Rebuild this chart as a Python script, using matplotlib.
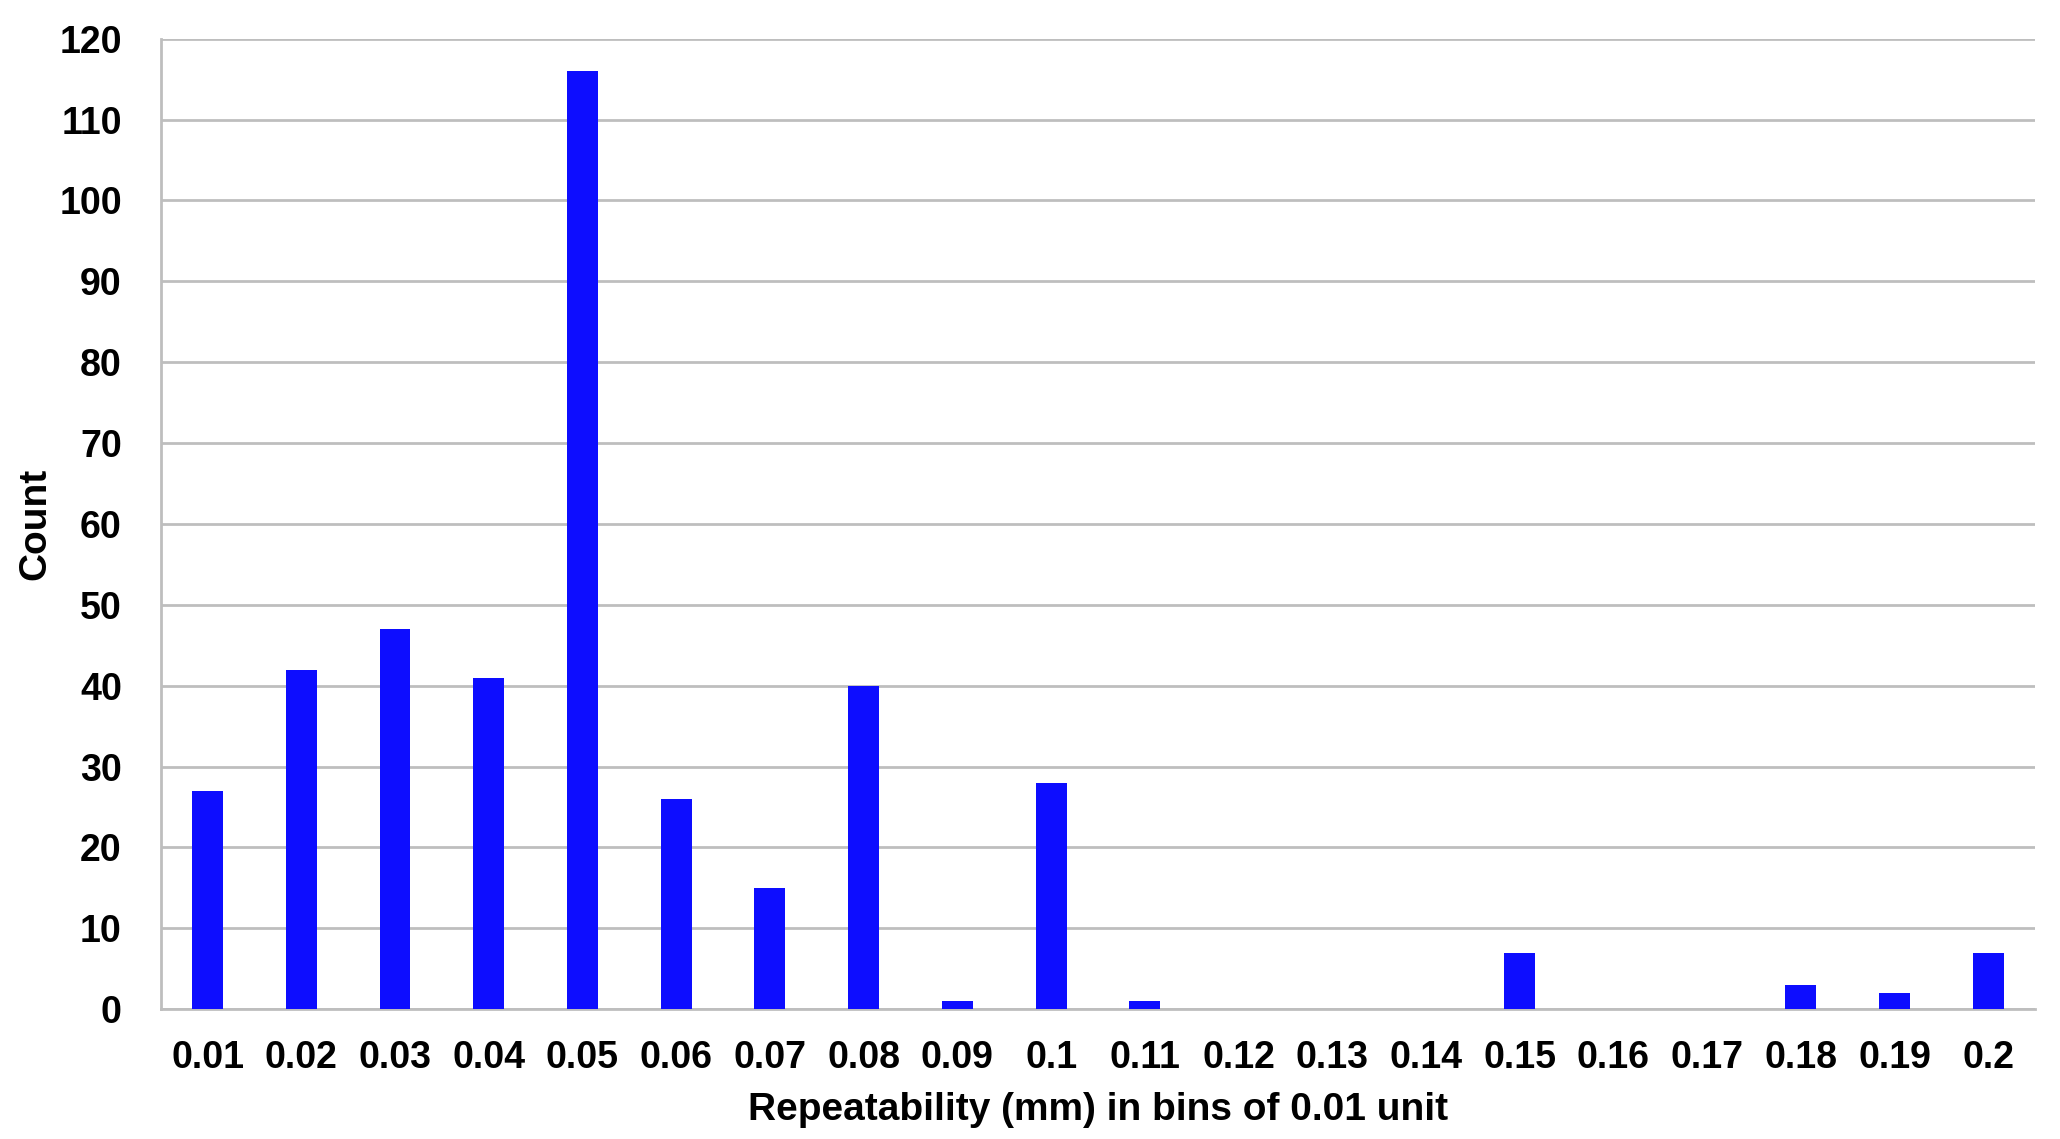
import numpy as np
import matplotlib
matplotlib.use('Agg')
import matplotlib.pyplot as plt

# Datos del histograma
bins = ['0.01', '0.02', '0.03', '0.04', '0.05', '0.06', '0.07', '0.08', '0.09', '0.1',
        '0.11', '0.12', '0.13', '0.14', '0.15', '0.16', '0.17', '0.18', '0.19', '0.2']
counts = [27, 42, 47, 41, 116, 26, 15, 40, 1, 28,
          1, 0, 0, 0, 7, 0, 0, 3, 2, 7]
y_ticks = list(range(0, 121, 10))

plt.rcParams['font.family'] = ['Liberation Sans', 'DejaVu Sans']
plt.rcParams['font.weight'] = 'bold'

fig = plt.figure(figsize=(20.6, 11.39), dpi=100)
ax = fig.add_axes([0.078, 0.114, 0.910, 0.852])

x = np.arange(len(bins))
ax.bar(x, counts, width=0.33, color='#0D0DFF', zorder=3)

ax.set_xlim(-0.5, len(bins) - 0.5)
ax.set_ylim(0, 120)
ax.set_yticks(y_ticks)
ax.set_xticks(x)
ax.set_xticklabels(bins)
ax.tick_params(axis='both', length=0, labelsize=27)
ax.tick_params(axis='x', pad=22)
ax.tick_params(axis='y', pad=28)

ax.grid(True, axis='y', color='#BEBEBE', linewidth=2, zorder=0)
for s in ['top', 'right']:
    ax.spines[s].set_visible(False)
for s in ['left', 'bottom']:
    ax.spines[s].set_color('#BEBEBE')
    ax.spines[s].set_linewidth(2)

ax.set_xlabel('Repeatability (mm) in bins of 0.01 unit', fontsize=28, fontweight='bold', labelpad=12)
ax.set_ylabel('Count', fontsize=28, fontweight='bold', labelpad=4)

fig.savefig('out.png', dpi=100)
